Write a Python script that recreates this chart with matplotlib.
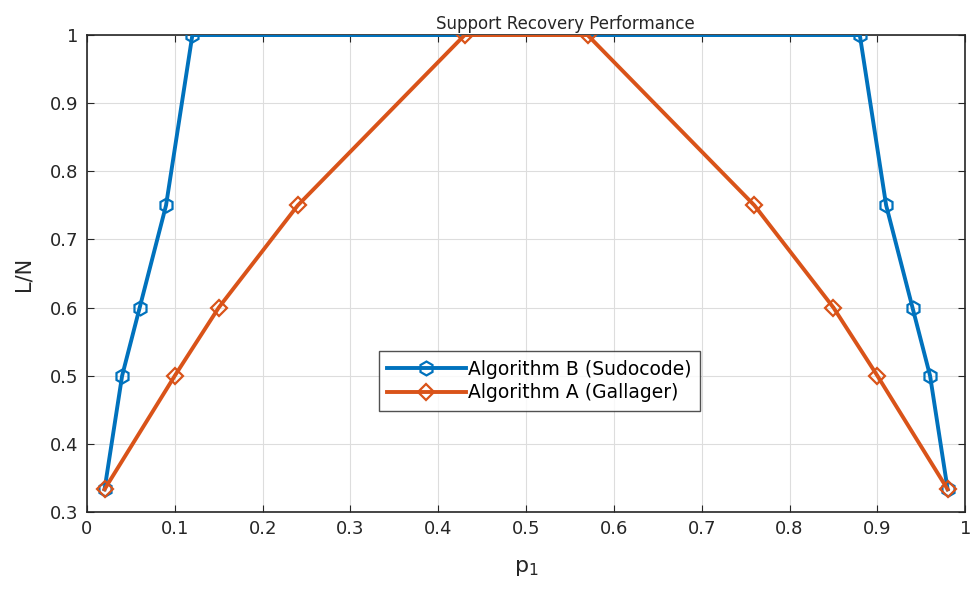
import numpy as np
import matplotlib
matplotlib.use("Agg")
import matplotlib.pyplot as plt

# Algorithm B (Sudocode)
p_b = [0.02, 0.04, 0.06, 0.09, 0.12, 0.88, 0.91, 0.94, 0.96, 0.98]
ln_b = [1/3, 0.5, 0.6, 0.75, 1.0, 1.0, 0.75, 0.6, 0.5, 1/3]

# Algorithm A (Gallager)
p_a = [0.02, 0.10, 0.15, 0.24, 0.43, 0.57, 0.76, 0.85, 0.90, 0.98]
ln_a = [1/3, 0.5, 0.6, 0.75, 1.0, 1.0, 0.75, 0.6, 0.5, 1/3]

xticks = np.round(np.arange(0, 1.01, 0.1), 1)
yticks = np.round(np.arange(0.3, 1.01, 0.1), 1)

plt.rcParams['font.family'] = ['DejaVu Sans']

fig = plt.figure(figsize=(9.72, 5.94), dpi=100)
ax = fig.add_axes([0.0895, 0.138, 0.9035, 0.803])

ax.plot(p_b, ln_b, color='#0072BD', lw=2.8, marker='h', ms=10, mfc='none',
        mew=1.6, label='Algorithm B (Sudocode)', zorder=3)
ax.plot(p_a, ln_a, color='#D95319', lw=2.8, marker='D', ms=8, mfc='none',
        mew=1.6, label='Algorithm A (Gallager)', zorder=4)

ax.set_xlim(0, 1)
ax.set_ylim(0.3, 1)
ax.set_xticks(xticks)
ax.set_xticklabels(['0' if v == 0 else ('1' if v == 1 else f'{v:g}') for v in xticks])
ax.set_yticks(yticks)
ax.set_yticklabels(['1' if v == 1 else f'{v:g}' for v in yticks])
ax.grid(True, color='#dddddd', lw=0.8)
ax.set_axisbelow(True)
ax.tick_params(direction='in', length=5, labelsize=13, colors='#262626',
               top=True, right=True, pad=6)
for s in ax.spines.values():
    s.set_color('#262626')
    s.set_linewidth(1.2)

ax.set_title('Support Recovery Performance', fontsize=12, pad=4, color='#262626',
             x=0.545)
ax.set_xlabel('p$_1$', fontsize=16, color='#262626', labelpad=14)
ax.set_ylabel('L/N', fontsize=15, color='#262626', labelpad=12)

leg = ax.legend(loc='upper left', bbox_to_anchor=(0.332, 0.337), fontsize=13.5,
                frameon=True, fancybox=False, edgecolor='#262626',
                handlelength=4.2, handletextpad=0.1, borderpad=0.45,
                labelspacing=0.25, borderaxespad=0)
leg.get_frame().set_linewidth(1.0)

fig.savefig('out.png', dpi=100)
